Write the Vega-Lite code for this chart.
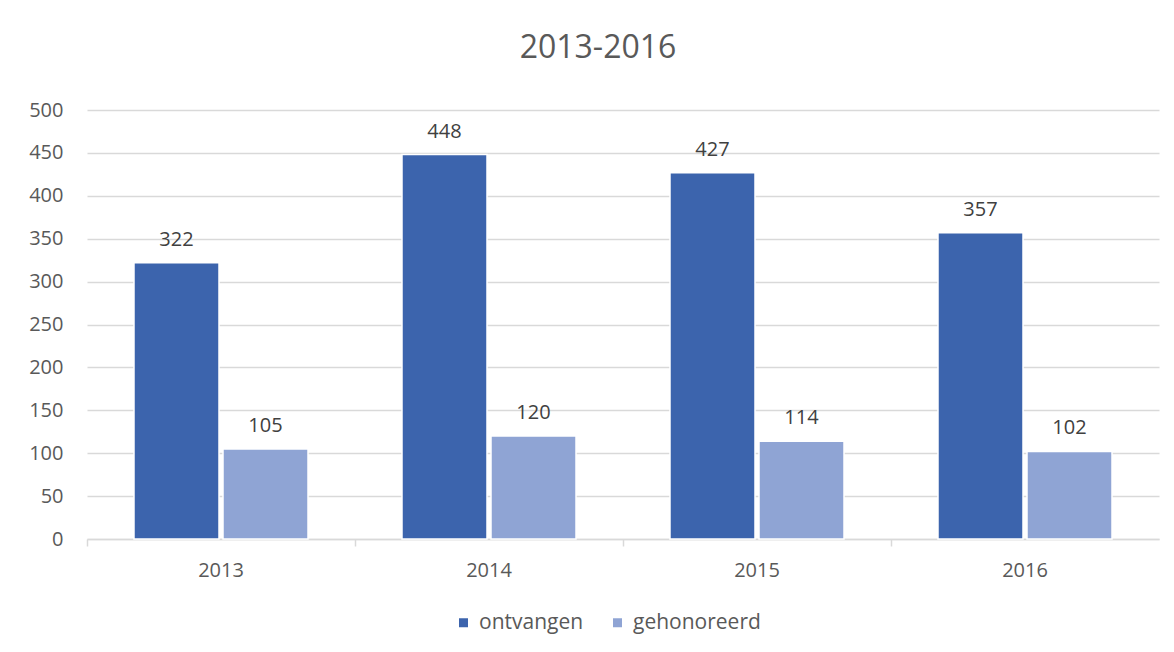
{
  "$schema": "https://vega.github.io/schema/vega-lite/v6.json",
  "autosize": "none",
  "width": 1072,
  "height": 429,
  "padding": {"left": 87, "top": 110, "right": 15, "bottom": 113},
  "background": "white",
  "config": {"view": {"stroke": null}},
  "title": {
    "text": "2013-2016",
    "fontSize": 32,
    "font": "Open Sans",
    "fontWeight": "normal",
    "color": "#595959",
    "anchor": "middle",
    "dx": -25,
    "offset": 35
  },
  "data": {
    "values": [
      {"jaar": "2013", "reeks": "ontvangen", "aantal": 322},
      {"jaar": "2013", "reeks": "gehonoreerd", "aantal": 105},
      {"jaar": "2014", "reeks": "ontvangen", "aantal": 448},
      {"jaar": "2014", "reeks": "gehonoreerd", "aantal": 120},
      {"jaar": "2015", "reeks": "ontvangen", "aantal": 427},
      {"jaar": "2015", "reeks": "gehonoreerd", "aantal": 114},
      {"jaar": "2016", "reeks": "ontvangen", "aantal": 357},
      {"jaar": "2016", "reeks": "gehonoreerd", "aantal": 102}
    ]
  },
  "encoding": {
    "x": {
      "field": "jaar",
      "type": "nominal",
      "title": null,
      "scale": {"paddingInner": 0, "paddingOuter": 0},
      "axis": {
        "labelAngle": 0,
        "labelFont": "Open Sans",
        "labelFontSize": 20,
        "labelColor": "#595959",
        "labelPadding": 14,
        "domainColor": "#d9d9d9",
        "domainWidth": 1.5,
        "ticks": true,
        "tickColor": "#d9d9d9",
        "tickWidth": 1.5,
        "tickSize": 7,
        "bandPosition": 0
      }
    },
    "xOffset": {
      "field": "reeks",
      "type": "nominal",
      "sort": ["ontvangen", "gehonoreerd"],
      "scale": {"paddingInner": 0.045, "paddingOuter": 0.528}
    },
    "y": {
      "field": "aantal",
      "type": "quantitative",
      "title": null,
      "scale": {"domain": [0, 500], "nice": false},
      "axis": {
        "values": [0, 50, 100, 150, 200, 250, 300, 350, 400, 450, 500],
        "labelFont": "Open Sans",
        "labelFontSize": 20,
        "labelColor": "#595959",
        "labelPadding": 24,
        "ticks": false,
        "domain": false,
        "grid": true,
        "gridColor": "#d9d9d9",
        "gridWidth": 1.5
      }
    }
  },
  "layer": [
    {
      "mark": {"type": "bar", "stroke": "white", "strokeWidth": 1.5},
      "encoding": {
        "color": {
          "field": "reeks",
          "type": "nominal",
          "sort": ["ontvangen", "gehonoreerd"],
          "scale": {"domain": ["ontvangen", "gehonoreerd"], "range": ["#3c64ad", "#8fa4d4"]},
          "legend": {
            "orient": "none",
            "legendX": 366,
            "legendY": 502,
            "direction": "horizontal",
            "title": null,
            "symbolType": "square",
            "symbolSize": 81,
            "symbolStrokeWidth": 0,
            "labelFont": "Open Sans",
            "labelFontSize": 21,
            "labelColor": "#595959",
            "labelOffset": 5,
            "columnPadding": 23,
            "padding": 0
          }
        }
      }
    },
    {
      "mark": {
        "type": "text",
        "baseline": "alphabetic",
        "dy": -17,
        "font": "Open Sans",
        "fontSize": 20,
        "color": "#404040"
      },
      "encoding": {
        "text": {"field": "aantal", "type": "quantitative"}
      }
    }
  ]
}
